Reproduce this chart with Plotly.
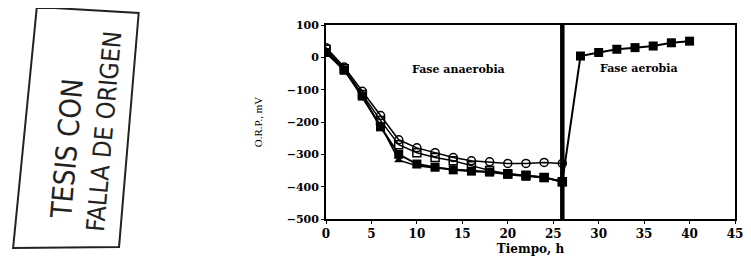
import plotly.graph_objects as go

t_ana = [0, 2, 4, 6, 8, 10, 12, 14, 16, 18, 20, 22, 24, 26]
circ = [30, -30, -105, -180, -255, -280, -295, -310, -320, -323, -328, -328, -325, -328]
sq_open = [25, -35, -115, -195, -270, -295, -310, -320, -335, -350, -360, -365, -372, -385]
tri = [18, -35, -125, -210, -318, -335, -342, -345, -350, -355, -360, -365, -370, -385]
t_fill = [0, 2, 4, 6, 8, 10, 12, 14, 16, 18, 20, 22, 24, 26, 28, 30, 32, 34, 36, 38, 40]
sq_fill = [15, -40, -120, -215, -300, -330, -340, -348, -352, -355, -362, -368, -372, -385,
           4, 15, 25, 30, 35, 45, 50]
phase_change = 26
y_range = [-500, 100]
x_ticks = [0, 5, 10, 15, 20, 25, 30, 35, 40, 45]
y_ticks = [100, 0, -100, -200, -300, -400, -500]

fig = go.Figure()
fnt = dict(family="DejaVu Serif", color="black")

fig.add_trace(go.Scatter(x=t_ana, y=circ, mode="lines+markers",
                         line=dict(color="black", width=1.5),
                         marker=dict(symbol="circle-open", size=8, color="black", line=dict(width=1.5))))
fig.add_trace(go.Scatter(x=t_ana, y=sq_open, mode="lines+markers",
                         line=dict(color="black", width=1.5),
                         marker=dict(symbol="square-open", size=8, color="black", line=dict(width=1.5))))
fig.add_trace(go.Scatter(x=t_ana, y=tri, mode="lines+markers",
                         line=dict(color="black", width=1.5),
                         marker=dict(symbol="triangle-up", size=8, color="black")))
fig.add_trace(go.Scatter(x=t_fill, y=sq_fill, mode="lines+markers",
                         line=dict(color="black", width=2),
                         marker=dict(symbol="square", size=9, color="black")))
fig.add_trace(go.Scatter(x=[phase_change, phase_change], y=y_range, mode="lines",
                         line=dict(color="black", width=4.5), hoverinfo="skip"))

fig.add_annotation(x=0.325, y=0.77, xref="paper", yref="paper", text="Fase anaerobia",
                   xanchor="center", yanchor="middle",
                   showarrow=False, font=dict(size=11, weight="bold", **fnt))
fig.add_annotation(x=0.765, y=0.775, xref="paper", yref="paper", text="Fase aerobia",
                   xanchor="center", yanchor="middle",
                   showarrow=False, font=dict(size=11, weight="bold", **fnt))

# stamp
fig.add_shape(type="path", xref="paper", yref="paper",
              path="M -0.707 1.093 L -0.458 1.062 L -0.506 -0.144 L -0.765 -0.149 Z",
              line=dict(color="#222", width=2))
fig.add_annotation(x=-0.633, y=0.36, xref="paper", yref="paper", text="TESIS CON",
                   xanchor="center", yanchor="middle",
                   showarrow=False, textangle=-85,
                   font=dict(family="DejaVu Sans Condensed", size=29, color="#222"))
fig.add_annotation(x=-0.542, y=0.45, xref="paper", yref="paper", text="FALLA DE ORIGEN",
                   xanchor="center", yanchor="middle",
                   showarrow=False, textangle=-85,
                   font=dict(family="DejaVu Sans Condensed", size=25, color="#222"))

# page body has an 8px margin: size and margins compensate so the plot lands in place
fig.update_layout(
    width=743, height=266, margin=dict(l=318, r=8, t=17, b=55),
    paper_bgcolor="white", plot_bgcolor="white", showlegend=False,
)
fig.update_xaxes(range=[0, 45], tickvals=x_ticks, showline=True, linecolor="black", linewidth=1.8,
                 mirror=True, ticks="outside", ticklen=3, tickcolor="black", showgrid=False,
                 zeroline=False, tickfont=dict(size=12, weight="bold", **fnt),
                 title=dict(text="Tiempo, h", font=dict(size=12, weight="bold", **fnt), standoff=4))
fig.update_yaxes(range=y_range, tickvals=y_ticks, showline=True, linecolor="black", linewidth=1.8,
                 mirror=True, ticks="outside", ticklen=3, tickcolor="black", showgrid=False,
                 zeroline=False, tickfont=dict(size=11, weight="bold", **fnt),
                 title=dict(text="O.R.P., mV", font=dict(size=11, family="Liberation Serif", color="black"),
                            standoff=22))
fig.write_html("out.html")
